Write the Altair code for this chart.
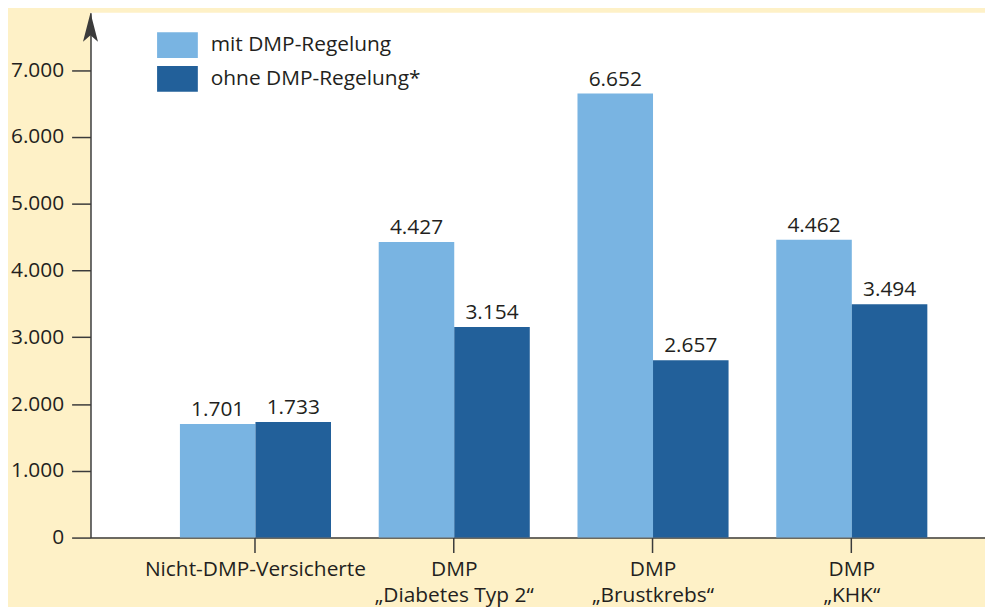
import altair as alt
import pandas as pd

categories = ["Nicht-DMP-Versicherte", "DMP|„Diabetes Typ 2“", "DMP|„Brustkrebs“", "DMP|„KHK“"]
series = ["mit DMP-Regelung", "ohne DMP-Regelung*"]
mit_values = [1701, 4427, 6652, 4462]
ohne_values = [1733, 3154, 2657, 3494]
colors = ["#79B4E2", "#22609A"]
y_ticks = [0, 1000, 2000, 3000, 4000, 5000, 6000, 7000]
y_max = 7860

rows = []
for c, m, o in zip(categories, mit_values, ohne_values):
    rows.append({"cat": c, "series": series[0], "value": m})
    rows.append({"cat": c, "series": series[1], "value": o})
df = pd.DataFrame(rows)

FONT = "Open Sans"
AX = "#3b3b3b"
TXT = "#231f20"

x_enc = alt.X(
    "cat:N", sort=categories, title=None,
    scale=alt.Scale(paddingInner=0.24, paddingOuter=0.37, align=0.608),
    axis=alt.Axis(labelAngle=0, labelExpr="split(datum.label, '|')", labelFontSize=21,
                  labelFont=FONT, labelColor=TXT, labelLineHeight=26, labelPadding=6,
                  tickSize=15, tickColor=AX, tickWidth=1.5, domainColor=AX, domainWidth=1.5,
                  labelBaseline="top", labelLimit=0),
)
xoff = alt.XOffset("series:N", sort=series, scale=alt.Scale(paddingInner=0, paddingOuter=0))
y_enc = alt.Y(
    "value:Q", title=None,
    scale=alt.Scale(domain=[0, y_max], nice=False),
    axis=alt.Axis(values=y_ticks, grid=False, labelFontSize=21, labelFont=FONT, labelColor=TXT,
                  labelExpr="replace(format(datum.value, ',d'), ',', '.')",
                  tickSize=19, tickColor=AX, tickWidth=1.5, domainColor=AX, domainWidth=1.5,
                  labelPadding=8),
)

base = alt.Chart(df)

bars = base.mark_bar().encode(
    x=x_enc,
    xOffset=xoff,
    y=y_enc,
    color=alt.Color(
        "series:N", sort=series,
        scale=alt.Scale(domain=series, range=colors),
        legend=alt.Legend(
            title=None, orient="none", legendX=67, legendY=12, padding=0,
            symbolType="M-1,-0.634H1V0.634H-1Z", symbolSize=1681, symbolStrokeWidth=0,
            symbolOpacity=1, labelFontSize=21, labelFont=FONT, labelColor=TXT,
            labelOffset=13, rowPadding=0, labelLimit=0,
        ),
    ),
)

labels = base.mark_text(
    fontSize=21, font=FONT, color=TXT, baseline="alphabetic", dy=-8
).encode(
    x=alt.X("cat:N", sort=categories),
    xOffset=xoff,
    y=alt.Y("value:Q"),
    text=alt.Text("label:N"),
).transform_calculate(label="replace(format(datum.value, ',d'), ',', '.')")

arrow_df = pd.DataFrame({"top": [y_max]})
arrow = alt.Chart(arrow_df).mark_point(
    shape="M0,0L0.52,2L0,1.55L-0.52,2Z", size=841, filled=True, opacity=1,
    color=AX, strokeWidth=0,
).encode(x=alt.value(0), y=alt.Y("top:Q"))

chart = alt.layer(bars, labels, arrow).properties(
    width=900, height=528,
    background="#FEF1C7",
    padding={"left": 83, "top": 3, "right": 0, "bottom": 68},
    autosize=alt.AutoSizeParams(type="none"),
).configure_view(fill="white", stroke=None)

chart.save("out.html", embed_options={"renderer": "svg", "actions": False})
